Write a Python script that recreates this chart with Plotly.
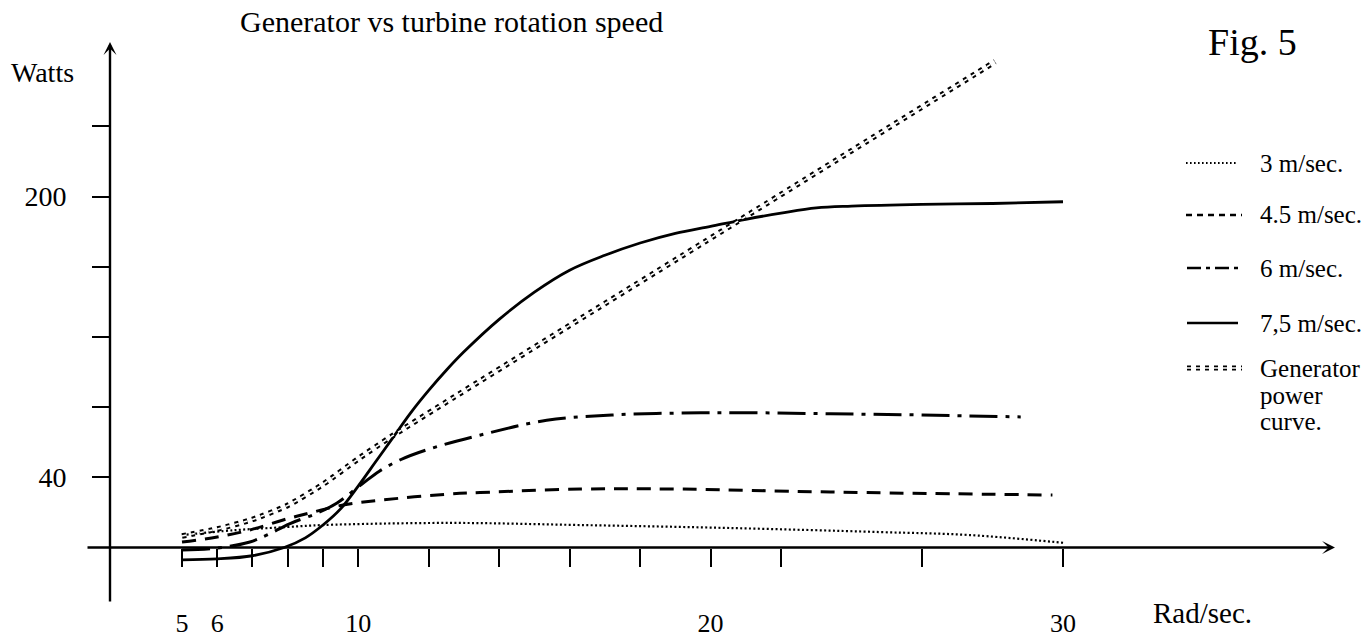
import plotly.graph_objects as go

# ---------------- data ----------------
rad_3 = [5, 6.45, 8.0, 9.0, 12.6, 16.3, 20.55, 24.8, 27.35, 30.05]
w_3 = [7.1, 9.8, 11.7, 12.8, 14.0, 12.8, 11.1, 8.8, 7.1, 2.6]

rad_45 = [5, 6, 6.93, 7.87, 8.63, 9.57, 10.7, 12.6, 13.46, 16.3, 19.1, 23.4, 29.7]
w_45 = [3.1, 6.0, 10.0, 15.7, 19.7, 24.2, 27.1, 30.5, 31.3, 33.3, 33.3, 31.6, 29.9]

rad_6 = [5, 6, 6.9, 7.4, 8.05, 8.85, 9.4, 10.1, 10.6, 11.2, 12.0, 13.45, 15.35, 17.2, 19.1, 21.0, 23.4, 26.0, 28.8]
w_6 = [-1.4, -0.3, 3.0, 7.0, 13.5, 19.7, 25.4, 36.0, 43.5, 50.0, 56.0, 64.0, 72.5, 75.5, 76.6, 76.8, 76.2, 75.5, 74.4]

rad_75 = [5, 6, 7, 7.9, 8.5, 9, 9.5, 10, 10.5, 11, 11.5, 12, 12.5, 13, 14, 15, 16, 17, 18, 19, 20, 21, 22, 23, 24, 26, 28, 30]
w_75 = [-7, -6.5, -4.7, 0, 5.5, 12.8, 22, 35, 49, 63, 77, 89.5, 101, 111.5, 130, 145.5, 158, 166.5, 173.5, 179, 183, 187, 190.5, 193.5, 194.5, 195.5, 196, 197]

rad_gen = [5, 6, 7, 8, 9, 10, 11, 20.83, 28.07]
w_gen = [6.6, 10.5, 16, 24, 36, 50.5, 64, 186.6, 276.8]

x_tick_vals = [5, 6, 7, 8, 9, 10, 12, 14, 16, 18, 20, 22, 26, 30]
x_tick_text = ["5", "6", "", "", "", "10", "", "", "", "", "20", "", "", "30"]
y_tick_vals = [40, 80, 120, 160, 200, 240]
y_tick_text = ["40", "", "", "", "200", ""]

legend_labels = ["3 m/sec.", "4.5 m/sec.", "6 m/sec.", "7,5 m/sec."]
gen_label_lines = ["Generator", "power", "curve."]

# ---------------- layout constants ----------------
W, H = 1372, 639
X_SCALE = 35.24            # px per rad/sec
X_PX0 = 182 - 5 * X_SCALE  # pixel position of x = 0
Y_SCALE = 1.755            # px per watt
Y_PX0 = 547.5              # pixel position of y = 0
SERIF = "Liberation Serif, Times New Roman, serif"

x_range = [(0 - X_PX0) / X_SCALE, (W - X_PX0) / X_SCALE]
y_range = [(Y_PX0 - H) / Y_SCALE, Y_PX0 / Y_SCALE]


def dx(px):
    return (px - X_PX0) / X_SCALE


def dy(py):
    return (Y_PX0 - py) / Y_SCALE


def fx(px):
    return px / W


def fy(py):
    return 1 - py / H


fig = go.Figure()

line_kw = dict(mode="lines", hoverinfo="skip", showlegend=False)
fig.add_trace(go.Scatter(x=rad_3, y=w_3, line=dict(color="black", width=2.2, dash="2px,2.4px", shape="spline"), **line_kw))
fig.add_trace(go.Scatter(x=rad_45, y=w_45, line=dict(color="black", width=3, dash="14px,9px", shape="spline"), **line_kw))
fig.add_trace(go.Scatter(x=rad_6, y=w_6, line=dict(color="black", width=3, dash="28px,8px,4px,8px", shape="spline"), **line_kw))
fig.add_trace(go.Scatter(x=rad_75, y=w_75, line=dict(color="black", width=2.8, shape="spline"), **line_kw))
# generator power curve: double dashed line (black dashes split by a white core)
fig.add_trace(go.Scatter(x=rad_gen, y=w_gen, line=dict(color="black", width=5.6, dash="4px,5px", shape="spline", smoothing=0.6), **line_kw))
fig.add_trace(go.Scatter(x=rad_gen, y=w_gen, line=dict(color="white", width=1.6, dash="4px,5px", shape="spline", smoothing=0.6), **line_kw))

annotations = []
# axis lines with arrows
annotations.append(dict(x=dx(1335), y=0, ax=dx(86), ay=0, xref="x", yref="y", axref="x", ayref="y",
                        text="", showarrow=True, arrowhead=3, arrowsize=0.9, arrowwidth=2.4, arrowcolor="black"))
annotations.append(dict(x=dx(110), y=dy(42), ax=dx(110), ay=dy(603), xref="x", yref="y", axref="x", ayref="y",
                        text="", showarrow=True, arrowhead=3, arrowsize=0.9, arrowwidth=2.4, arrowcolor="black"))


def txt(text, px, py, size, xanchor="center"):
    annotations.append(dict(text=text, x=fx(px), y=fy(py), xref="paper", yref="paper",
                            xanchor=xanchor, yanchor="middle", showarrow=False,
                            font=dict(family=SERIF, size=size, color="black")))


txt("Generator vs turbine rotation speed", 451, 21, 30)
txt("Fig. 5", 1252, 42, 38)
txt("Watts", 42, 73, 28)
txt("Rad/sec.", 1202, 613, 29)

# legend
leg_y = [163, 215, 268, 323]
for lab, yy in zip(legend_labels, leg_y):
    txt(lab, 1258, yy, 25, xanchor="left")
for lab, yy in zip(gen_label_lines, [368, 395, 421]):
    txt(lab, 1258, yy, 25, xanchor="left")

shapes = []


def seg(x0, x1, py, width, dash, color="black"):
    shapes.append(dict(type="line", xref="paper", yref="paper", x0=fx(x0), x1=fx(x1), y0=fy(py), y1=fy(py),
                       line=dict(color=color, width=width, dash=dash)))


seg(1186, 1238, 163, 1.8, "1.6px,2.4px")
seg(1186, 1242, 215, 2.6, "6px,5px")
seg(1187, 1238, 268, 2.6, "14px,5px,4px,5px")
seg(1187, 1238, 323, 2.6, "solid")
seg(1187, 1242, 368, 4.8, "4px,5px")
seg(1187, 1242, 368, 1.4, "4px,5px", color="white")

fig.update_layout(
    width=W, height=H,
    margin=dict(l=0, r=0, t=0, b=0),
    paper_bgcolor="white", plot_bgcolor="white",
    xaxis=dict(range=x_range, anchor="free", position=(0 - y_range[0]) / (y_range[1] - y_range[0]),
               showgrid=False, zeroline=False, showline=False, automargin=False,
               ticks="outside", ticklen=18, tickwidth=2.2, tickcolor="black",
               tickmode="array", tickvals=x_tick_vals, ticktext=x_tick_text,
               ticklabelstandoff=34,
               tickfont=dict(family=SERIF, size=26, color="black")),
    yaxis=dict(range=y_range, anchor="free", position=fx(110),
               showgrid=False, zeroline=False, showline=False, automargin=False,
               ticks="outside", ticklen=18, tickwidth=2.2, tickcolor="black",
               tickmode="array", tickvals=y_tick_vals, ticktext=y_tick_text,
               ticklabelstandoff=20,
               tickfont=dict(family=SERIF, size=28, color="black")),
    annotations=annotations,
    shapes=shapes,
    showlegend=False,
    hovermode=False,
)

fig.write_html("out.html", config={"displayModeBar": False},
               post_script="document.body.style.margin='0';document.body.style.overflow='hidden';")
